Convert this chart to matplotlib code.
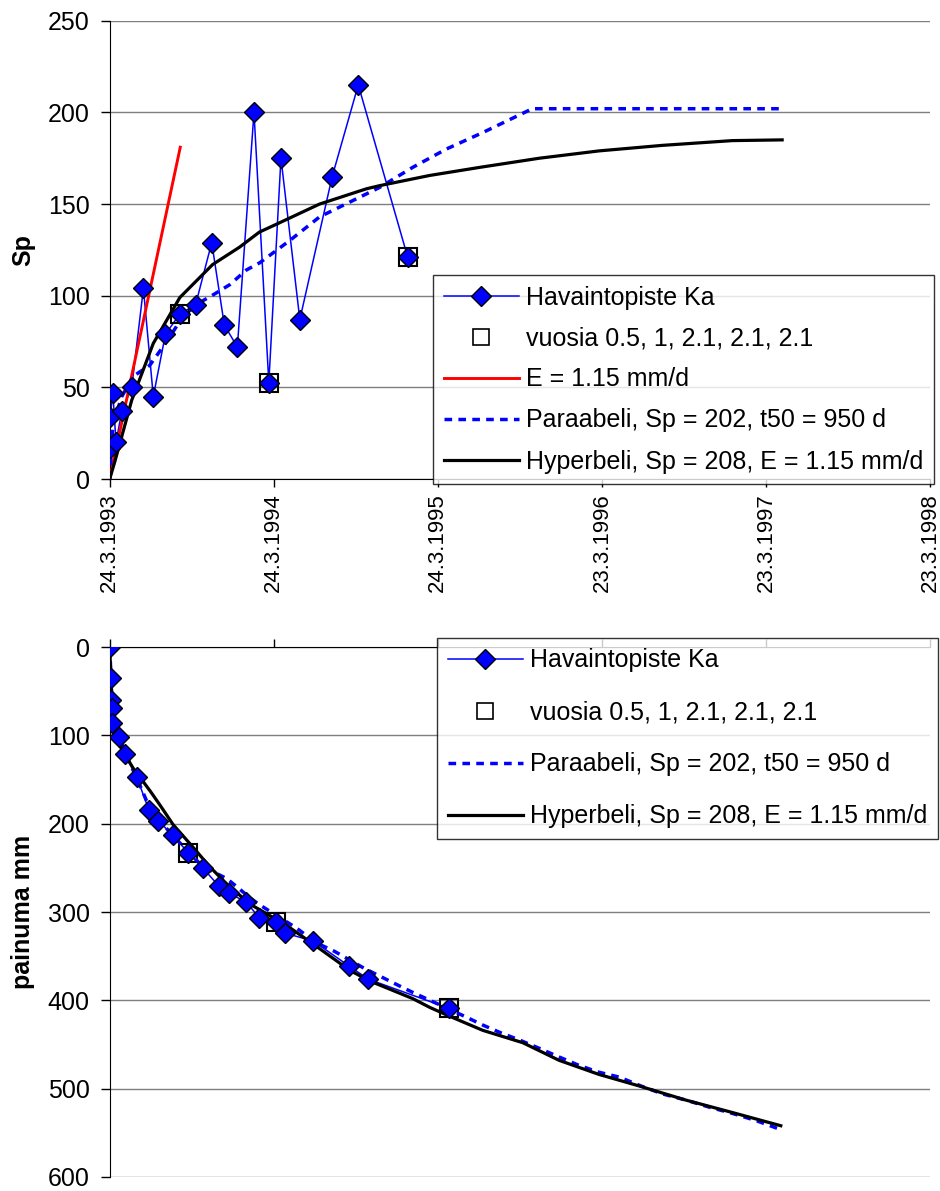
import matplotlib.pyplot as plt
from matplotlib.lines import Line2D

plt.rcParams['font.family'] = ['Liberation Sans', 'DejaVu Sans']

# aika = päiviä 24.3.1993 alkaen
tick_days = [0, 365, 730, 1095, 1460, 1825]
tick_labels = ['24.3.1993', '24.3.1994', '24.3.1995', '23.3.1996', '23.3.1997', '23.3.1998']

# --- yläkuva: Sp ---
sp_days = [0, 1, 7, 14, 27, 49, 75, 97, 124, 156, 191, 227, 255, 284, 321, 354, 381, 423, 495, 553, 663]
sp_vals = [17, 34, 47, 20, 37, 50, 104, 45, 79, 90, 95, 129, 84, 72, 200, 52.5, 175, 87, 165, 215, 121]
sp_year_days = [156, 354, 663]
sp_year_vals = [90, 52.5, 121]

e_days = [0, 157]
e_vals = [0, 181]

para_sp_days = [0, 7, 27, 52, 89, 124, 156, 191, 227, 267, 304, 334, 400, 467, 600, 674, 749, 830, 919, 940, 1496]
para_sp_vals = [0, 30, 45, 56, 62, 74, 86, 95, 100, 106, 114, 118, 130, 143, 159, 170, 180, 189, 199.5, 202, 202]

hyp_sp_days = [0, 12, 49, 97, 156, 229, 289, 333, 371, 467, 571, 600, 712, 823, 956, 1089, 1229, 1385, 1496]
hyp_sp_vals = [0, 10, 43, 74, 99, 117, 126.5, 134.7, 139, 150, 158.3, 160, 165.6, 170, 175, 179, 182, 184.6, 185]

# --- alakuva: painuma ---
s_days = [0, 2, 3, 5, 6, 21, 34, 60, 87, 108, 140, 175, 208, 243, 266, 304, 333, 369, 391, 453, 532, 575, 754]
s_vals = [0, 35, 60, 69, 86.5, 102, 121.6, 147, 184, 196.5, 213, 233, 250.6, 270.7, 279, 288.6, 307, 311, 324, 333, 361, 376, 409]
s_year_days = [175, 369, 754]
s_year_vals = [233, 311, 409]

para_s_days = [0, 3, 6, 21, 34, 60, 87, 108, 140, 175, 208, 260, 289, 312, 334, 415, 460, 500, 567, 638, 674,
               789, 830, 871, 912, 954, 999, 1041, 1085, 1134, 1182, 1230, 1282, 1334, 1385, 1437, 1496]
para_s_vals = [0, 35, 75, 100, 120, 148, 180, 195, 213, 232, 249, 262, 274, 284, 292, 318, 335, 344.5, 364, 382, 391,
               418, 428, 437, 445, 454, 464, 473, 481, 487, 497, 506, 513, 521, 528, 536, 547]

hyp_s_days = [0, 3, 6, 12, 52, 90, 112, 141, 186, 223, 260, 312, 393, 452, 534, 578, 674, 712, 756, 830, 919,
              1000, 1089, 1178, 1282, 1385, 1493]
hyp_s_vals = [0, 40, 75, 103, 137, 163, 179, 201, 227, 249, 268, 291, 315, 336, 366, 378, 398, 408, 418, 434, 448,
              468, 484, 497, 513, 527, 542]

BLUE = '#0000FF'
GRID = '#7f7f7f'
dash = (0, (2.2, 1.8))

fig = plt.figure(figsize=(9.4, 11.91), dpi=100)
ax1 = fig.add_axes([0.1167, 0.5978, 0.8727, 0.3848])
ax2 = fig.add_axes([0.1167, 0.0118, 0.8727, 0.4449])

# yläkuva
ax1.plot(sp_days, sp_vals, color=BLUE, lw=1.1, zorder=2)
ax1.plot(sp_year_days, sp_year_vals, ls='none', marker='s', ms=13.5, mfc='none', mec='black', mew=1.5, zorder=3)
ax1.plot(e_days, e_vals, color='#FF0000', lw=2.1, zorder=3)
ax1.plot(para_sp_days, para_sp_vals, color=BLUE, lw=2.5, ls=dash, zorder=3)
ax1.plot(hyp_sp_days, hyp_sp_vals, color='black', lw=2.3, zorder=4)
ax1.plot(sp_days, sp_vals, ls='none', marker='D', ms=10, mfc=BLUE, mec='black', mew=1, zorder=5)

# alakuva
ax2.plot(s_days, s_vals, color=BLUE, lw=1.1, zorder=2)
ax2.plot(s_year_days, s_year_vals, ls='none', marker='s', ms=13.5, mfc='none', mec='black', mew=1.5, zorder=3)
ax2.plot(para_s_days, para_s_vals, color=BLUE, lw=2.5, ls=dash, zorder=3)
ax2.plot(hyp_s_days, hyp_s_vals, color='black', lw=2.3, zorder=4)
ax2.plot(s_days, s_vals, ls='none', marker='D', ms=10, mfc=BLUE, mec='black', mew=1, zorder=5)

for ax in (ax1, ax2):
    ax.set_xlim(0, 1825)
    ax.set_xticks(tick_days)
    ax.grid(axis='y', color=GRID, lw=1)
    ax.set_axisbelow(True)
    ax.spines['right'].set_visible(False)
    ax.tick_params(axis='y', direction='out', length=6.5, width=1, pad=8, labelsize=18)
    ax.tick_params(axis='x', direction='out', length=6, width=1)

ax1.set_ylim(0, 250)
ax1.set_yticks([0, 50, 100, 150, 200, 250])
ax1.spines['top'].set_visible(False)
ax1.set_xticklabels(tick_labels, rotation=90, fontsize=16)
ax1.tick_params(axis='x', pad=4.5)
ax1.set_ylabel('Sp', fontsize=18, fontweight='bold')
ax1.yaxis.set_label_coords(-0.091, 0.5)

ax2.set_ylim(600, 0)
ax2.set_yticks([0, 100, 200, 300, 400, 500, 600])
ax2.spines['bottom'].set_visible(False)
ax2.xaxis.tick_top()
ax2.tick_params(axis='x', labeltop=False, labelbottom=False)
ax2.set_ylabel('painuma mm', fontsize=18, fontweight='bold')
ax2.yaxis.set_label_coords(-0.091, 0.5)

h_obs = Line2D([], [], color=BLUE, lw=1.1, marker='D', ms=10, mfc=BLUE, mec='black', mew=1)
h_year = Line2D([], [], ls='none', marker='s', ms=11, mfc='none', mec='black', mew=1.2)
h_e = Line2D([], [], color='#FF0000', lw=2.1)
h_para = Line2D([], [], color=BLUE, lw=2.5, ls=dash)
h_hyp = Line2D([], [], color='black', lw=2.3)

lab_obs = 'Havaintopiste Ka'
lab_year = 'vuosia 0.5, 1, 2.1, 2.1, 2.1'
lab_e = 'E = 1.15 mm/d'
lab_para = 'Paraabeli, Sp = 202, t50 = 950 d'
lab_hyp = 'Hyperbeli, Sp = 208, E = 1.15 mm/d'

leg_kw = dict(fontsize=18, frameon=True, fancybox=False, borderaxespad=0, handlelength=3.0,
              handletextpad=0.3, borderpad=0.42, loc='upper left', bbox_transform=fig.transFigure)

leg1 = ax1.legend([h_obs, h_year, h_e, h_para, h_hyp], [lab_obs, lab_year, lab_e, lab_para, lab_hyp],
                  bbox_to_anchor=(433 / 940, 1 - 275 / 1191), labelspacing=0.68, **leg_kw)
leg2 = ax2.legend([h_obs, h_year, h_para, h_hyp], [lab_obs, lab_year, lab_para, lab_hyp],
                  bbox_to_anchor=(437 / 940, 1 - 638 / 1191), labelspacing=1.12, **leg_kw)
for leg in (leg1, leg2):
    leg.get_frame().set_edgecolor('black')
    leg.get_frame().set_linewidth(1)
    leg.set_zorder(10)

fig.savefig('out.png', dpi=100)
